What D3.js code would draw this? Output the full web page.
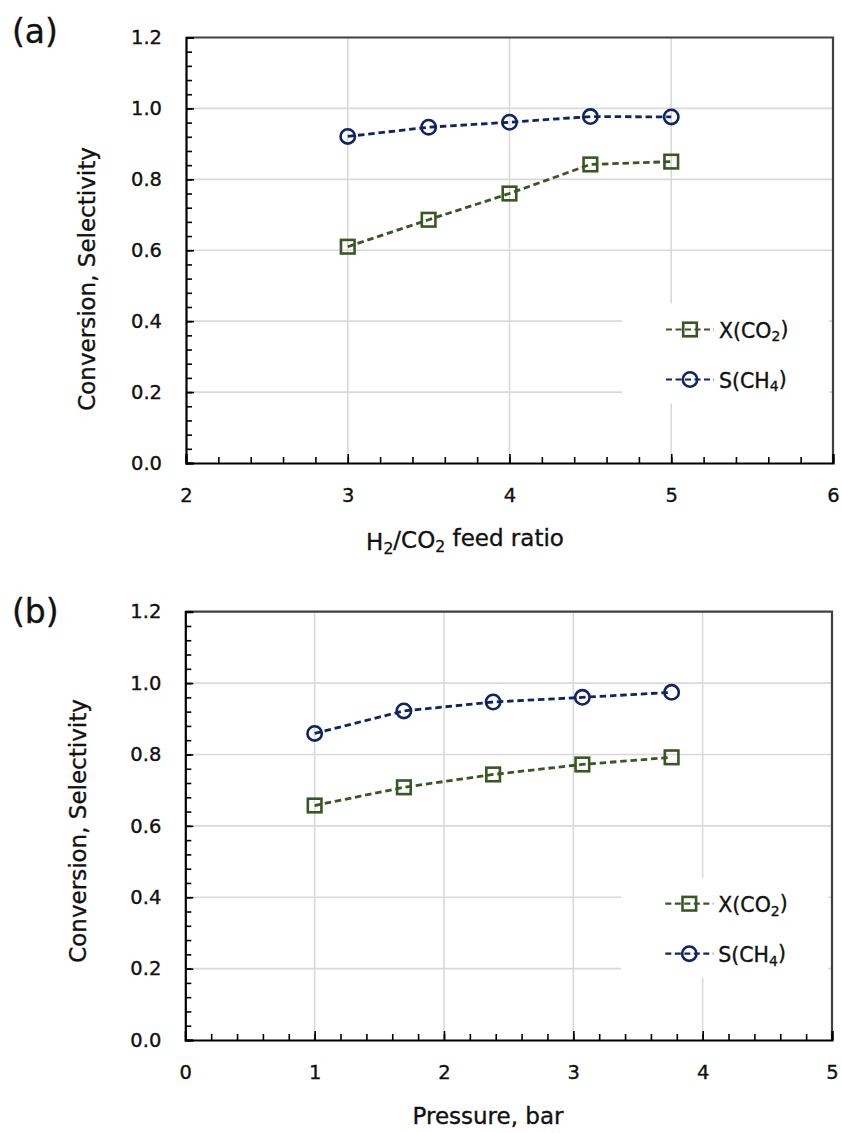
<!DOCTYPE html>
<html>
<head>
<meta charset="utf-8">
<script src="https://cdn.jsdelivr.net/npm/d3@7"></script>
<style>
  html, body { margin: 0; padding: 0; background: #fff; }
  svg { display: block; font-family: "DejaVu Sans", sans-serif; }
  .txt { fill: #111; stroke: #111; stroke-width: 0.35px; }
</style>
</head>
<body>
<svg id="chart" width="842" height="1133"></svg>
<script>

// Data, panel (a).
var ratioX =      [3, 3.5, 4, 4.5, 5];
var ratioConv =   [0.610, 0.686, 0.760, 0.842, 0.850];
var ratioSel =    [0.921, 0.947, 0.961, 0.977, 0.976];
var ratioTicks =  [2, 3, 4, 5, 6];

// Data, panel (b).
var pressureX =     [1, 1.69, 2.38, 3.07, 3.76];
var pressureConv =  [0.657, 0.708, 0.744, 0.772, 0.792];
var pressureSel =   [0.859, 0.922, 0.947, 0.960, 0.974];
var pressureTicks = [0, 1, 2, 3, 4, 5];

// Shared axis values.
var yTicks = [0, 0.2, 0.4, 0.6, 0.8, 1.0, 1.2];
var yTitle = 'Conversion, Selectivity';
var seriesNames = [['X(CO', '2', ')'], ['S(CH', '4', ')']];

var GREEN = '#385723';
var BLUE = '#0f2466';
var GRID = '#d9d9d9';

var svg = d3.select('#chart');

/*
 * Append text with a subscript part.
 *
 * @param {Object} sel: The text selection.
 * @param {Array} parts: Alternating normal / subscript strings.
 */
function subText(sel, parts) {
  parts.forEach(function(p, i) {
    var t = sel.append('tspan').text(p);
    if (i % 2 == 1) t.attr('font-size', '0.68em').attr('dy', '0.28em');
    else if (i > 0) t.attr('dy', '-0.28em');
  });
}

/*
 * Draw one marker.
 */
function marker(g, shape, x, y, color) {
  if (shape == 'square') {
    g.append('rect')
      .attr('x', x - 6.8).attr('y', y - 6.8)
      .attr('width', 13.6).attr('height', 13.6)
      .attr('fill', 'none').attr('stroke', color).attr('stroke-width', 2.6);
  } else {
    g.append('circle')
      .attr('cx', x).attr('cy', y).attr('r', 7.2)
      .attr('fill', 'none').attr('stroke', color).attr('stroke-width', 2.6);
  }
}

/*
 * Draw a panel.
 *
 * @param {Object} p: Panel settings.
 */
function drawPanel(p) {

  var w = p.right - p.left;
  var h = p.bottom - p.top;
  var xMin = p.xTicks[0], xMax = p.xTicks[p.xTicks.length - 1];

  // Scales.
  var x = d3.scaleLinear().domain([xMin, xMax]).range([0, w]);
  var y = d3.scaleLinear().domain([0, 1.2]).range([h, 0]);

  var g = svg.append('g').attr('transform', 'translate(' + p.left + ',' + p.top + ')');

  // Grid.
  g.append('g').selectAll('line').data(yTicks.slice(1, -1)).join('line')
    .attr('x1', 0).attr('x2', w)
    .attr('y1', function(d) { return y(d); }).attr('y2', function(d) { return y(d); })
    .attr('stroke', GRID).attr('stroke-width', 1.6);
  g.append('g').selectAll('line').data(p.xTicks.slice(1, -1)).join('line')
    .attr('y1', 0).attr('y2', h)
    .attr('x1', function(d) { return x(d); }).attr('x2', function(d) { return x(d); })
    .attr('stroke', GRID).attr('stroke-width', 1.6);

  // Legend box covers the grid.
  g.append('rect')
    .attr('x', 436).attr('y', 266).attr('width', 207).attr('height', 100)
    .attr('fill', '#fff');

  // Frame.
  g.append('path')
    .attr('d', 'M0,0H' + w + 'V' + h)
    .attr('fill', 'none').attr('stroke', '#404040').attr('stroke-width', 2.2);

  // Minor ticks.
  var yMinor = d3.range(0, 1.2001, 0.04);
  var xMinor = d3.range(xMin, xMax + 0.001, 0.2);

  g.append('g')
    .call(d3.axisLeft(y).tickValues(yMinor).tickSize(-6).tickFormat(''))
    .call(function(a) { a.select('.domain').remove(); })
    .selectAll('line').attr('stroke', '#000').attr('stroke-width', 1.6);
  g.append('g').attr('transform', 'translate(0,' + h + ')')
    .call(d3.axisBottom(x).tickValues(xMinor).tickSize(-6).tickFormat(''))
    .call(function(a) { a.select('.domain').remove(); })
    .selectAll('line').attr('stroke', '#000').attr('stroke-width', 1.6);

  // Major axes.
  var yAxis = g.append('g')
    .call(d3.axisLeft(y).tickValues(yTicks).tickSize(-8).tickPadding(24)
      .tickFormat(d3.format('.1f')));
  var xAxis = g.append('g').attr('transform', 'translate(0,' + h + ')')
    .call(d3.axisBottom(x).tickValues(p.xTicks).tickSize(-9).tickPadding(24)
      .tickFormat(d3.format('d')));

  [yAxis, xAxis].forEach(function(a) {
    a.select('.domain').attr('stroke', '#000').attr('stroke-width', 2.2);
    a.selectAll('line').attr('stroke', '#000').attr('stroke-width', 1.6);
    a.selectAll('text').attr('font-size', 19.5).attr('class', 'txt')
      .attr('font-family', '"DejaVu Sans", sans-serif');
  });
  xAxis.selectAll('text').attr('dy', '0.75em');

  // Series.
  var series = [
    { xs: p.xs, ys: p.conv, color: GREEN, shape: 'square' },
    { xs: p.xs, ys: p.sel, color: BLUE, shape: 'circle' }
  ];

  var line = d3.line()
    .x(function(d) { return x(d[0]); })
    .y(function(d) { return y(d[1]); });

  series.forEach(function(s) {
    var pts = d3.zip(s.xs, s.ys);
    g.append('path').datum(pts)
      .attr('d', line)
      .attr('fill', 'none').attr('stroke', s.color)
      .attr('stroke-width', 2.8).attr('stroke-dasharray', '6.5,3.8');
    pts.forEach(function(d) {
      marker(g, s.shape, x(d[0]), y(d[1]), s.color);
    });
  });

  // Legend.
  series.forEach(function(s, i) {
    var ly = 292 + i * 50;
    g.append('line')
      .attr('x1', 480).attr('x2', 528).attr('y1', ly).attr('y2', ly)
      .attr('stroke', s.color).attr('stroke-width', 2.2)
      .attr('stroke-dasharray', '6,3.5');
    marker(g, s.shape, 504, ly, s.color);
    var t = g.append('text')
      .attr('x', 533).attr('y', ly + 8)
      .attr('font-size', 20.5).attr('class', 'txt');
    subText(t, seriesNames[i]);
  });

  // Axis titles.
  svg.append('text')
    .attr('transform', 'translate(' + p.yTitleX + ',' + p.yTitleY + ') rotate(-90)')
    .attr('text-anchor', 'middle')
    .attr('font-size', 23).attr('class', 'txt')
    .text(yTitle);

  var xt = svg.append('text')
    .attr('x', p.xTitleX).attr('y', p.xTitleY)
    .attr('text-anchor', 'middle')
    .attr('font-size', 23).attr('class', 'txt');
  subText(xt, p.xTitle);

  // Panel letter.
  svg.append('text')
    .attr('x', 12).attr('y', p.letterY)
    .attr('font-size', 33).attr('class', 'txt')
    .text(p.letter);
}

drawPanel({
  left: 186, right: 833, top: 37.5, bottom: 463,
  xTicks: ratioTicks, xs: ratioX, conv: ratioConv, sel: ratioSel,
  xTitle: ['H', '2', '/CO', '2', ' feed ratio'],
  xTitleX: 465, xTitleY: 550,
  yTitleX: 95, yTitleY: 279,
  letter: '(a)', letterY: 43
});

drawPanel({
  left: 185.3, right: 832, top: 611.7, bottom: 1040,
  xTicks: pressureTicks, xs: pressureX, conv: pressureConv, sel: pressureSel,
  xTitle: ['Pressure, bar'],
  xTitleX: 488, xTitleY: 1124,
  yTitleX: 86, yTitleY: 831,
  letter: '(b)', letterY: 623
});

</script>
</body>
</html>
